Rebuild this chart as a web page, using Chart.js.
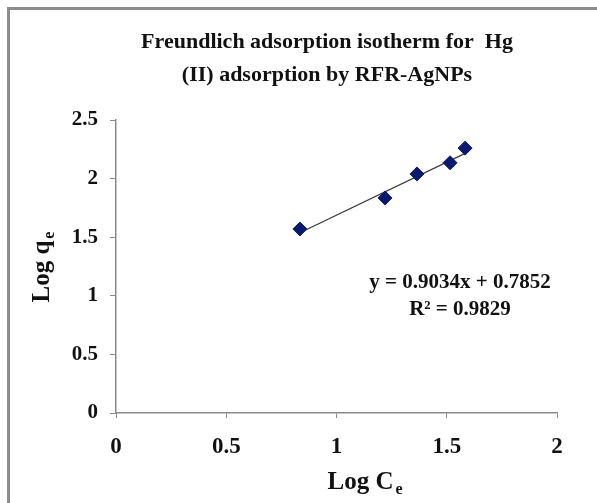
<!DOCTYPE html>
<html>
<head>
<meta charset="utf-8">
<script src="https://cdn.jsdelivr.net/npm/chart.js@4/dist/chart.umd.min.js"></script>
<style>
  html, body { margin: 0; padding: 0; background: #fff; }
  #wrap { position: relative; width: 597px; height: 503px; overflow: hidden; }
  #frame {
    position: absolute; left: 7px; top: 7px; right: -10px; bottom: -10px;
    border-top: 3px solid #8c8c8c; border-left: 3px solid #8c8c8c;
    pointer-events: none;
  }
  canvas { position: absolute; left: 0; top: 0; }
</style>
</head>
<body>
<div id="wrap">
  <canvas id="chartFreundlich" width="597" height="503"></canvas>
  <div id="frame"></div>
</div>
<script>
// Freundlich isotherm, Hg(II) on RFR-AgNPs
const logCe = [0.834, 1.22, 1.365, 1.515, 1.583];
const logQe = [1.57, 1.835, 2.04, 2.135, 2.26];

// linear fit reported on the chart
const fitSlope = 0.9034;
const fitIntercept = 0.7852;
const fitR2 = 0.9829;

const titleLines = ['Freundlich adsorption isotherm for  Hg', '(II) adsorption by RFR-AgNPs'];
const serif = "'Liberation Serif', 'Times New Roman', serif";

function fitLine() {
  const lo = Math.min(...logCe);
  const hi = Math.max(...logCe);
  return [lo, hi].map((x) => ({ x, y: fitSlope * x + fitIntercept }));
}

// plain numbers, no trailing ".0"
function tickText(v) {
  return String(Math.round(v * 10) / 10);
}

// text with a lowered small letter, e.g. "Log C" + "e"
function drawSubscripted(ctx, base, sub, x, y, size) {
  const subSize = Math.round(size * 0.62);
  ctx.font = `bold ${size}px ${serif}`;
  const w1 = ctx.measureText(base).width;
  ctx.font = `bold ${subSize}px ${serif}`;
  const w2 = ctx.measureText(sub).width;
  const left = x - (w1 + w2) / 2;
  ctx.textAlign = 'left';
  ctx.textBaseline = 'alphabetic';
  ctx.font = `bold ${size}px ${serif}`;
  ctx.fillText(base, left, y);
  ctx.font = `bold ${subSize}px ${serif}`;
  ctx.fillText(sub, left + w1 + 2, y + size * 0.2);
}

const labelsPlugin = {
  id: 'freundlichLabels',
  afterDraw(chart) {
    const { ctx, scales } = chart;
    ctx.save();
    ctx.fillStyle = '#111';

    ctx.textAlign = 'center';
    ctx.textBaseline = 'middle';
    ctx.font = `bold 22px ${serif}`;
    ctx.fillText(titleLines[0], 327, 42);
    ctx.fillText(titleLines[1], 327, 75);

    drawSubscripted(ctx, 'Log C', 'e', 364, 489, 25);

    ctx.save();
    ctx.translate(49, 268);
    ctx.rotate(-Math.PI / 2);
    drawSubscripted(ctx, 'Log q', 'e', 0, 0, 25);
    ctx.restore();

    const ex = scales.x.getPixelForValue(1.56);
    ctx.textAlign = 'center';
    ctx.textBaseline = 'middle';
    ctx.font = `bold 21px ${serif}`;
    ctx.fillText(`y = ${fitSlope.toFixed(4)}x + ${fitIntercept.toFixed(4)}`, ex, scales.y.getPixelForValue(1.11));
    ctx.fillText(`R\u00b2 = ${fitR2.toFixed(4)}`, ex, scales.y.getPixelForValue(0.88));
    ctx.restore();
  },
};

const axisColor = '#8a8a8a';

new Chart(document.getElementById('chartFreundlich'), {
  type: 'scatter',
  data: {
    datasets: [
      {
        label: 'Log qe',
        data: logCe.map((x, i) => ({ x, y: logQe[i] })),
        pointStyle: 'rectRot',
        pointRadius: 7,
        backgroundColor: '#0b1a6e',
        borderColor: '#0b1a6e',
        borderWidth: 1,
        order: 1,
      },
      {
        label: 'Linear fit',
        data: fitLine(),
        type: 'line',
        showLine: true,
        borderColor: '#3a3a3a',
        borderWidth: 1.2,
        pointRadius: 0,
        fill: false,
        order: 2,
      },
    ],
  },
  options: {
    responsive: false,
    animation: false,
    layout: { padding: { top: 120, right: 40, left: 0, bottom: 0 } },
    plugins: {
      legend: { display: false },
      title: { display: false },
      tooltip: { enabled: false },
    },
    scales: {
      x: {
        type: 'linear',
        min: 0,
        max: 2,
        ticks: {
          stepSize: 0.5, color: '#111', padding: 15, maxRotation: 0,
          font: { family: serif, size: 23, weight: 'bold' },
          callback: tickText,
        },
        grid: { drawOnChartArea: false, drawTicks: true, tickLength: 5, color: axisColor },
        border: { color: axisColor, width: 1.5 },
        afterFit(scale) { scale.height = 90; },
      },
      y: {
        type: 'linear',
        min: 0,
        max: 2.5,
        ticks: {
          stepSize: 0.5, color: '#111', padding: 12,
          font: { family: serif, size: 21, weight: 'bold' },
          callback: tickText,
        },
        grid: { drawOnChartArea: false, drawTicks: true, tickLength: 6, color: axisColor },
        border: { color: axisColor, width: 1.5 },
        afterFit(scale) { scale.width = 116; },
      },
    },
  },
  plugins: [labelsPlugin],
});
</script>
</body>
</html>
